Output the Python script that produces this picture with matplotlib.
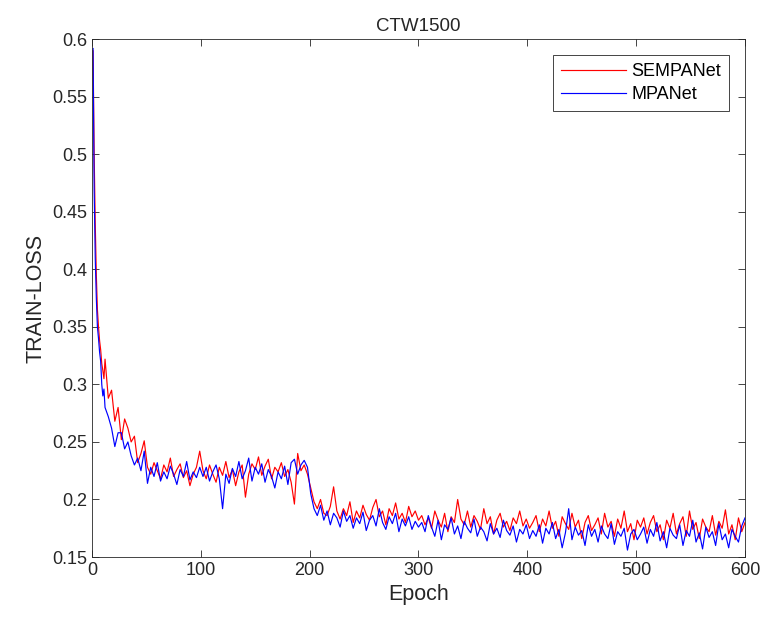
import numpy as np
import matplotlib.pyplot as plt

epochs = np.concatenate([np.arange(1, 13), np.arange(15, 601, 3)])

sempanet = [
    0.590, 0.500, 0.440, 0.395, 0.365, 0.350, 0.338, 0.330, 0.318, 0.312, 0.305, 0.322,
    # 15-48
    0.288, 0.295, 0.268, 0.280, 0.252, 0.270, 0.262, 0.250, 0.255, 0.232, 0.240, 0.251,
    # 51-99
    0.228, 0.222, 0.232, 0.225, 0.218, 0.230, 0.224, 0.236, 0.220, 0.226, 0.231, 0.219,
    0.225, 0.212, 0.222, 0.228, 0.242,
    # 102-198
    0.225, 0.218, 0.230, 0.222, 0.215, 0.228, 0.221, 0.233, 0.219, 0.226, 0.212, 0.224,
    0.230, 0.202, 0.222, 0.231, 0.226, 0.237, 0.221, 0.229, 0.235, 0.218, 0.228, 0.224,
    0.232, 0.220, 0.226, 0.215, 0.196, 0.240, 0.225, 0.230, 0.222,
    # 201-300
    0.210, 0.198, 0.192, 0.200, 0.188, 0.186, 0.194, 0.211, 0.190, 0.183, 0.192, 0.186,
    0.198, 0.180, 0.190, 0.184, 0.195, 0.187, 0.182, 0.193, 0.200, 0.185, 0.190, 0.178,
    0.192, 0.186, 0.197, 0.183, 0.188, 0.180, 0.194, 0.185, 0.190, 0.182,
    # 303-402
    0.186, 0.178, 0.184, 0.175, 0.190, 0.182, 0.176, 0.188, 0.172, 0.185, 0.180, 0.200,
    0.183, 0.178, 0.190, 0.176, 0.186, 0.181, 0.174, 0.192, 0.179, 0.185, 0.170, 0.182,
    0.188, 0.176, 0.181, 0.173, 0.184, 0.179, 0.190, 0.177, 0.183, 0.175,
    # 405-501
    0.180, 0.186, 0.172, 0.183, 0.177, 0.190, 0.175, 0.181, 0.168, 0.185, 0.179, 0.174,
    0.188, 0.176, 0.182, 0.166, 0.180, 0.186, 0.173, 0.178, 0.184, 0.170, 0.188, 0.176,
    0.181, 0.168, 0.183, 0.175, 0.190, 0.172, 0.179, 0.165, 0.182,
    # 504-600
    0.176, 0.184, 0.170, 0.180, 0.186, 0.172, 0.178, 0.165, 0.182, 0.175, 0.188, 0.170,
    0.179, 0.185, 0.168, 0.190, 0.174, 0.180, 0.166, 0.183, 0.176, 0.172, 0.186, 0.169,
    0.181, 0.175, 0.191, 0.170, 0.178, 0.165, 0.184, 0.172, 0.180,
]

mpanet = [
    0.592, 0.470, 0.410, 0.375, 0.350, 0.340, 0.328, 0.320, 0.300, 0.290, 0.296, 0.280,
    # 15-48
    0.272, 0.262, 0.246, 0.258, 0.258, 0.244, 0.250, 0.238, 0.230, 0.236, 0.225, 0.242,
    # 51-99
    0.214, 0.228, 0.220, 0.232, 0.216, 0.224, 0.218, 0.229, 0.222, 0.213, 0.226, 0.220,
    0.233, 0.217, 0.224, 0.219, 0.228,
    # 102-198
    0.220, 0.228, 0.216, 0.224, 0.230, 0.218, 0.192, 0.222, 0.214, 0.227, 0.220, 0.233,
    0.218, 0.225, 0.236, 0.216, 0.228, 0.222, 0.231, 0.215, 0.226, 0.220, 0.210, 0.224,
    0.218, 0.229, 0.213, 0.232, 0.235, 0.222, 0.230, 0.234, 0.228,
    # 201-300
    0.205, 0.192, 0.186, 0.195, 0.182, 0.190, 0.178, 0.188, 0.184, 0.176, 0.190, 0.181,
    0.186, 0.175, 0.184, 0.179, 0.189, 0.173, 0.182, 0.186, 0.177, 0.192, 0.180, 0.174,
    0.185, 0.179, 0.188, 0.172, 0.183, 0.177, 0.185, 0.174, 0.181, 0.176,
    # 303-402
    0.180, 0.172, 0.186, 0.176, 0.168, 0.182, 0.165, 0.178, 0.174, 0.184, 0.170, 0.177,
    0.166, 0.181, 0.175, 0.171, 0.183, 0.168, 0.176, 0.172, 0.164, 0.179, 0.170, 0.175,
    0.167, 0.182, 0.173, 0.169, 0.177, 0.163, 0.174, 0.170, 0.178, 0.166,
    # 405-501
    0.173, 0.168, 0.178, 0.162, 0.175, 0.170, 0.180, 0.166, 0.174, 0.158, 0.171, 0.192,
    0.165, 0.176, 0.169, 0.173, 0.160, 0.178, 0.168, 0.174, 0.163, 0.177, 0.170, 0.166,
    0.179, 0.161, 0.172, 0.168, 0.175, 0.156, 0.170, 0.174, 0.165,
    # 504-600
    0.170, 0.176, 0.162, 0.174, 0.168, 0.180, 0.164, 0.172, 0.158, 0.175, 0.169, 0.166,
    0.178, 0.160, 0.173, 0.168, 0.182, 0.163, 0.171, 0.157, 0.176, 0.167, 0.172, 0.160,
    0.179, 0.165, 0.170, 0.158, 0.174, 0.168, 0.163, 0.177, 0.184,
]

xticks = [0, 100, 200, 300, 400, 500, 600]
yticks = [0.15, 0.2, 0.25, 0.3, 0.35, 0.4, 0.45, 0.5, 0.55, 0.6]

plt.rcParams['font.family'] = ['Liberation Sans', 'DejaVu Sans']

fig = plt.figure(figsize=(7.62, 6.18), dpi=100)
ax = fig.add_axes([0.1207, 0.0987, 0.857, 0.8377])

ax.plot(epochs, sempanet, color='#ff0000', linewidth=0.85, label='SEMPANet')
ax.plot(epochs, mpanet, color='#0000ff', linewidth=0.85, label='MPANet')

ax.set_xlim(0, 600)
ax.set_ylim(0.15, 0.6)
ax.set_xticks(xticks)
ax.set_yticks(yticks)
ax.set_yticklabels([f'{v:g}' for v in yticks])
ax.tick_params(direction='in', top=True, right=True, labelsize=13,
               length=5, width=0.6, colors='#262626')
for s in ax.spines.values():
    s.set_color('#262626')
    s.set_linewidth(0.6)

ax.set_xlabel('Epoch', fontsize=15.5, color='#262626')
ax.set_ylabel('TRAIN-LOSS', fontsize=15.5, color='#262626')
ax.set_title('CTW1500', fontsize=13.5, color='#262626')

leg = ax.legend(loc='upper right', fontsize=13, fancybox=False,
                edgecolor='#262626', framealpha=1, handlelength=3.6,
                handletextpad=0.3, borderpad=0.45, labelspacing=0.35,
                borderaxespad=0, bbox_to_anchor=(0.9755, 0.970))
leg.get_frame().set_linewidth(0.6)

fig.savefig('out.png', dpi=100)
